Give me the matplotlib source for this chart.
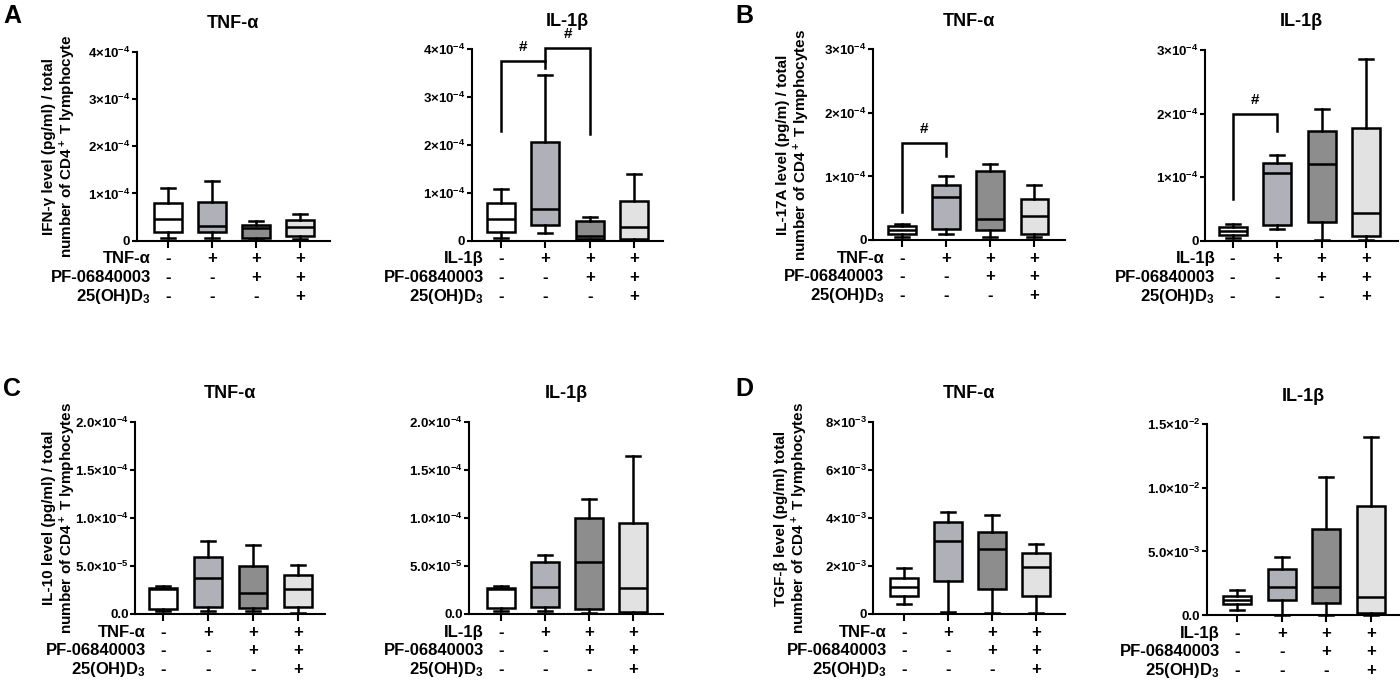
import matplotlib
matplotlib.use('Agg')
import matplotlib.pyplot as plt

plt.rcParams['font.family'] = ['Liberation Sans', 'DejaVu Sans']
plt.rcParams['font.weight'] = 'bold'
plt.rcParams['mathtext.fontset'] = 'custom'
plt.rcParams['mathtext.rm'] = 'Liberation Sans:bold'
plt.rcParams['mathtext.it'] = 'Liberation Sans:bold'
plt.rcParams['mathtext.bf'] = 'Liberation Sans:bold'
plt.rcParams['mathtext.sf'] = 'Liberation Sans:bold'
plt.rcParams['mathtext.default'] = 'rm'

# ---- data ----
box_colors = ['#ffffff', '#b0b0b8', '#8d8d8d', '#e2e2e2']
row_names = ['PF-06840003', '25(OH)D$_3$']
row_signs = [['-', '+', '+', '+'],
             ['-', '-', '+', '+'],
             ['-', '-', '-', '+']]

# A: IFN-gamma  (x 1e-4)
a_tnf_hi = [1.11, 1.26, 0.42, 0.57]
a_tnf_q3 = [0.79, 0.81, 0.33, 0.43]
a_tnf_med = [0.46, 0.31, 0.26, 0.28]
a_tnf_q1 = [0.19, 0.19, 0.05, 0.09]
a_tnf_lo = [0.06, 0.06, 0.01, 0.03]

a_il_hi = [1.09, 3.47, 0.49, 1.39]
a_il_q3 = [0.78, 2.07, 0.42, 0.84]
a_il_med = [0.46, 0.67, 0.10, 0.29]
a_il_q1 = [0.19, 0.32, 0.04, 0.03]
a_il_lo = [0.06, 0.16, 0.01, 0.01]

# B: IL-17A  (x 1e-4)
b_tnf_hi = [0.25, 1.01, 1.19, 0.87]
b_tnf_q3 = [0.22, 0.87, 1.09, 0.64]
b_tnf_med = [0.16, 0.68, 0.33, 0.38]
b_tnf_q1 = [0.09, 0.17, 0.16, 0.10]
b_tnf_lo = [0.04, 0.09, 0.04, 0.04]

b_il_hi = [0.26, 1.35, 2.07, 2.86]
b_il_q3 = [0.21, 1.23, 1.73, 1.78]
b_il_med = [0.15, 1.06, 1.21, 0.43]
b_il_q1 = [0.09, 0.25, 0.30, 0.07]
b_il_lo = [0.05, 0.18, 0.01, 0.01]

# C: IL-10  (x 1e-5)
c_tnf_hi = [2.90, 7.56, 7.21, 5.06]
c_tnf_q3 = [2.75, 5.96, 4.99, 4.09]
c_tnf_med = [2.60, 3.74, 2.15, 2.60]
c_tnf_q1 = [0.55, 0.73, 0.62, 0.73]
c_tnf_lo = [0.30, 0.31, 0.35, 0.10]

c_il_hi = [2.90, 6.13, 11.96, 16.4]
c_il_q3 = [2.70, 5.44, 9.95, 9.50]
c_il_med = [2.55, 2.84, 5.44, 2.67]
c_il_q1 = [0.62, 0.69, 0.55, 0.17]
c_il_lo = [0.31, 0.31, 0.10, 0.07]

# D: TGF-beta  (x 1e-3)
d_tnf_hi = [1.92, 4.24, 4.14, 2.92]
d_tnf_q3 = [1.51, 3.85, 3.40, 2.53]
d_tnf_med = [1.14, 3.04, 2.71, 1.94]
d_tnf_q1 = [0.76, 1.36, 1.03, 0.76]
d_tnf_lo = [0.42, 0.07, 0.03, 0.03]

d_il_hi = [1.97, 4.59, 10.88, 14.03]
d_il_q3 = [1.49, 3.64, 6.74, 8.60]
d_il_med = [1.15, 2.23, 2.23, 1.39]
d_il_q1 = [0.84, 1.18, 0.97, 0.13]
d_il_lo = [0.39, 0.03, 0.03, 0.03]

ticks_a = [0, 1e-4, 2e-4, 3e-4, 4e-4]
ticklabels_a = ['0', r'1$\times$10$^{-4}$', r'2$\times$10$^{-4}$',
                r'3$\times$10$^{-4}$', r'4$\times$10$^{-4}$']
ticks_b = [0, 1e-4, 2e-4, 3e-4]
ticklabels_b = ['0', r'1$\times$10$^{-4}$', r'2$\times$10$^{-4}$', r'3$\times$10$^{-4}$']
ticks_c = [0, 5e-5, 1e-4, 1.5e-4, 2e-4]
ticklabels_c = ['0.0', r'5.0$\times$10$^{-5}$', r'1.0$\times$10$^{-4}$',
                r'1.5$\times$10$^{-4}$', r'2.0$\times$10$^{-4}$']
ticks_d1 = [0, 2e-3, 4e-3, 6e-3, 8e-3]
ticklabels_d1 = ['0', r'2$\times$10$^{-3}$', r'4$\times$10$^{-3}$',
                 r'6$\times$10$^{-3}$', r'8$\times$10$^{-3}$']
ticks_d2 = [0, 5e-3, 1e-2, 1.5e-2]
ticklabels_d2 = ['0.0', r'5.0$\times$10$^{-3}$', r'1.0$\times$10$^{-2}$', r'1.5$\times$10$^{-2}$']

ylabel_a = 'IFN-γ level (pg/ml) / total\nnumber of CD4$^+$ T lymphocyte'
ylabel_b = 'IL-17A level (pg/m) / total\nnumber of CD4$^+$ T lymphocytes'
ylabel_c = 'IL-10 level (pg/ml) / total\nnumber of CD4$^+$ T lymphocytes'
ylabel_d = 'TGF-β level (pg/ml) total\nnumber of CD4$^+$ T lymphocytes'

# significance brackets: (group i, group j, left end, top, right end)
brackets_a_il = [(1, 2, 2.30e-4, 3.76e-4, 3.60e-4), (2, 3, 3.76e-4, 4.03e-4, 2.22e-4)]
brackets_b_tnf = [(1, 2, 0.44e-4, 1.52e-4, 1.32e-4)]
brackets_b_il = [(1, 2, 0.66e-4, 1.99e-4, 1.73e-4)]

W, H = 1400, 682
fig = plt.figure(figsize=(W / 100, H / 100), dpi=100)
LW = 1.8


def make_stats(lo, q1, med, q3, hi, scale):
    return [dict(whislo=lo[i] * scale, q1=q1[i] * scale, med=med[i] * scale,
                 q3=q3[i] * scale, whishi=hi[i] * scale, fliers=[]) for i in range(4)]


def panel(rect, xlim, stats, ticks, ticklabels, title, stim, brackets=None, ylabel=None):
    l, r, t, b = rect
    ax = fig.add_axes([l / W, 1 - b / H, (r - l) / W, (b - t) / H])
    bp = ax.bxp(stats, positions=[1, 2, 3, 4], widths=0.63, patch_artist=True,
                showfliers=False,
                boxprops=dict(linewidth=LW, edgecolor='black'),
                medianprops=dict(linewidth=LW, color='black'),
                whiskerprops=dict(linewidth=LW, color='black'),
                capprops=dict(linewidth=LW, color='black'))
    for patch, c in zip(bp['boxes'], box_colors):
        patch.set_facecolor(c)
    for k in bp:
        for art in bp[k]:
            art.set_clip_on(False)
    ax.set_xlim(*xlim)
    ax.set_ylim(0, ticks[-1])
    ax.set_yticks(ticks)
    ax.set_yticklabels(ticklabels)
    ax.set_xticks([1, 2, 3, 4])
    ax.set_xticklabels([])
    for s in ['top', 'right']:
        ax.spines[s].set_visible(False)
    for s in ['left', 'bottom']:
        ax.spines[s].set_linewidth(1.5)
    ax.tick_params(axis='y', length=3.6, width=1.5, labelsize=9.5, pad=1)
    ax.tick_params(axis='x', length=5, width=1.5)
    ax.set_title(title, fontsize=13, fontweight='bold', pad=17)

    names = [stim] + row_names
    offsets = [13, 26.6, 40]
    for row in range(3):
        ax.annotate(names[row], xy=(0.61, 0), xycoords=ax.get_xaxis_transform(),
                    xytext=(0, -offsets[row]), textcoords='offset points',
                    ha='right', va='center', fontsize=12, annotation_clip=False)
        for g in range(4):
            ax.annotate(row_signs[row][g], xy=(g + 1, 0), xycoords=ax.get_xaxis_transform(),
                        xytext=(0, -offsets[row]), textcoords='offset points',
                        ha='center', va='center', fontsize=12, annotation_clip=False)

    if brackets:
        for (i, j, y_left, y_top, y_right) in brackets:
            ax.plot([i, i, j, j], [y_left, y_top, y_top, y_right], color='black',
                    lw=LW, clip_on=False, solid_joinstyle='miter')
            ax.annotate('#', xy=((i + j) / 2, y_top), xytext=(0, 10),
                        textcoords='offset points', ha='center', va='center',
                        fontsize=11, annotation_clip=False)

    if ylabel:
        ax.set_ylabel(ylabel, fontsize=11, fontweight='bold', linespacing=1.1)
        ax.yaxis.set_label_coords((78 - l) / (r - l), 0.5)
    return ax


panel((136.7, 330, 51.7, 240.7), (0.29, 4.68),
      make_stats(a_tnf_lo, a_tnf_q1, a_tnf_med, a_tnf_q3, a_tnf_hi, 1e-4),
      ticks_a, ticklabels_a, 'TNF-α', 'TNF-α', ylabel=ylabel_a)
panel((471.7, 663.3, 49.3, 240.7), (0.34, 4.65),
      make_stats(a_il_lo, a_il_q1, a_il_med, a_il_q3, a_il_hi, 1e-4),
      ticks_a, ticklabels_a, 'IL-1β', 'IL-1β', brackets=brackets_a_il)
ax = panel((873.3, 1065, 49.3, 240), (0.36, 4.69),
           make_stats(b_tnf_lo, b_tnf_q1, b_tnf_med, b_tnf_q3, b_tnf_hi, 1e-4),
           ticks_b, ticklabels_b, 'TNF-α', 'TNF-α', brackets=brackets_b_tnf)
ax.set_ylabel(ylabel_b, fontsize=11, fontweight='bold', linespacing=1.1)
ax.yaxis.set_label_coords((811.5 - 873.3) / (1065 - 873.3), 0.5)
panel((1205, 1398, 50, 240.7), (0.38, 4.72),
      make_stats(b_il_lo, b_il_q1, b_il_med, b_il_q3, b_il_hi, 1e-4),
      ticks_b, ticklabels_b, 'IL-1β', 'IL-1β', brackets=brackets_b_il)
panel((135, 325, 421.7, 614), (0.37, 4.61),
      make_stats(c_tnf_lo, c_tnf_q1, c_tnf_med, c_tnf_q3, c_tnf_hi, 1e-5),
      ticks_c, ticklabels_c, 'TNF-α', 'TNF-α', ylabel=ylabel_c)
panel((469, 662.7, 421.7, 614), (0.27, 4.67),
      make_stats(c_il_lo, c_il_q1, c_il_med, c_il_q3, c_il_hi, 1e-5),
      ticks_c, ticklabels_c, 'IL-1β', 'IL-1β')
ax = panel((873.3, 1065, 422, 614), (0.30, 4.66),
           make_stats(d_tnf_lo, d_tnf_q1, d_tnf_med, d_tnf_q3, d_tnf_hi, 1e-3),
           ticks_d1, ticklabels_d1, 'TNF-α', 'TNF-α')
ax.set_ylabel(ylabel_d, fontsize=11, fontweight='bold', linespacing=1.1)
ax.yaxis.set_label_coords((810 - 873.3) / (1065 - 873.3), 0.5)
panel((1206.7, 1400, 424.3, 615), (0.31, 4.66),
      make_stats(d_il_lo, d_il_q1, d_il_med, d_il_q3, d_il_hi, 1e-3),
      ticks_d2, ticklabels_d2, 'IL-1β', 'IL-1β')

for letter, (x, y) in zip('ABCD', [(3, 4), (735, 4), (3, 377), (735, 377)]):
    fig.text(x / W, 1 - y / H, letter, fontsize=18, fontweight='bold', ha='left', va='top')

fig.savefig('out.png', dpi=100)
